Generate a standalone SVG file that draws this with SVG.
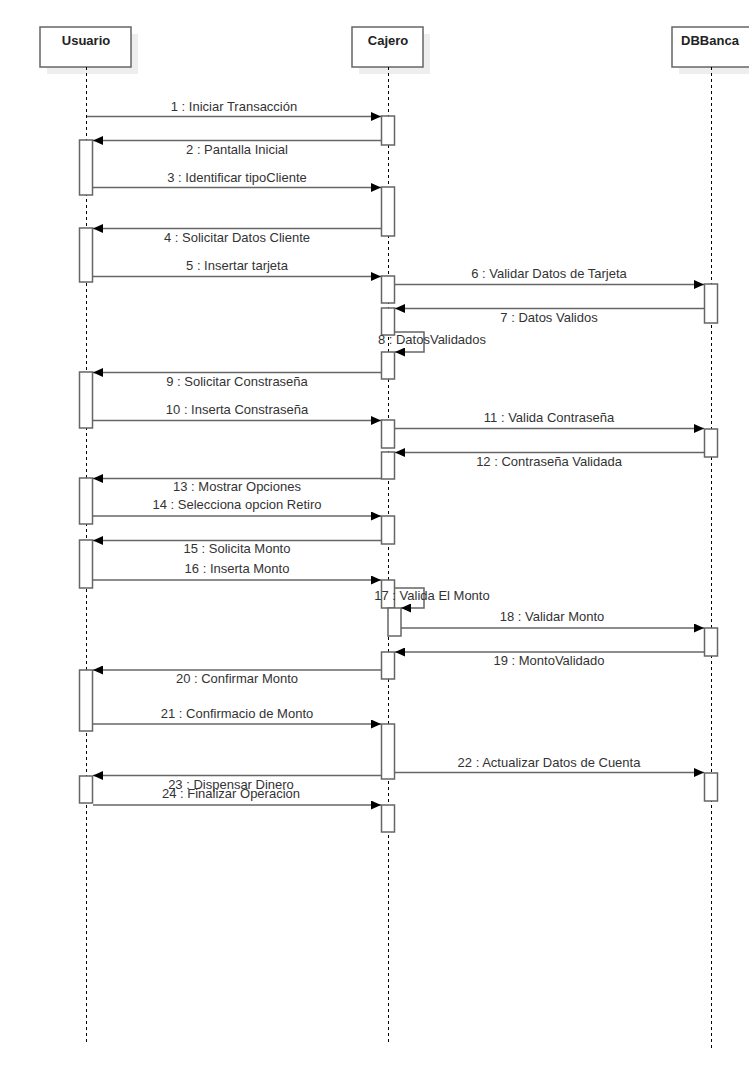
<svg xmlns="http://www.w3.org/2000/svg" width="749" height="1069" viewBox="0 0 749 1069">
<defs>
<marker id="ah" markerUnits="userSpaceOnUse" markerWidth="11" markerHeight="9" refX="10" refY="4.5" orient="auto">
<path d="M0,0 L10,4.5 L0,9 z" fill="#000"/>
</marker>
<style>
.shadow{fill:#eeeeee;stroke:none}
.head{fill:#fff;stroke:#666;stroke-width:1.5}
.htxt{font-family:"Liberation Sans",Arial,sans-serif;font-size:13px;font-weight:bold;fill:#222;text-anchor:middle}
.life{stroke:#000;stroke-width:1;stroke-dasharray:3,3;fill:none}
.act{fill:#fff;stroke:#666;stroke-width:1.5}
.msg{stroke:#666;stroke-width:1.5;fill:none;marker-end:url(#ah)}
.lbl{font-family:"Liberation Sans",Arial,sans-serif;font-size:13px;fill:#333;text-anchor:middle}
</style>
</defs>
<rect width="749" height="1069" fill="#fff"/>

<g id="usuario">
<rect class="shadow" x="47" y="34" width="91" height="40"/>
<rect class="head" x="40" y="27" width="91" height="40"/>
<text class="htxt" x="86" y="45">Usuario</text>
<line class="life" x1="86.5" y1="67" x2="86.5" y2="1043"/>
<rect class="act" x="79.5" y="140" width="13" height="55"/>
<rect class="act" x="79.5" y="228" width="13" height="54"/>
<rect class="act" x="79.5" y="372" width="13" height="56"/>
<rect class="act" x="79.5" y="478" width="13" height="46"/>
<rect class="act" x="79.5" y="540" width="13" height="48"/>
<rect class="act" x="79.5" y="670" width="13" height="61"/>
<rect class="act" x="79.5" y="776" width="13" height="27"/>
</g>

<g id="cajero">
<rect class="shadow" x="359" y="34" width="71" height="40"/>
<rect class="head" x="352" y="27" width="71" height="40"/>
<text class="htxt" x="388" y="45">Cajero</text>
<line class="life" x1="388.5" y1="67" x2="388.5" y2="1043"/>
<rect class="act" x="381.5" y="116" width="13" height="29"/>
<rect class="act" x="381.5" y="187" width="13" height="49"/>
<rect class="act" x="381.5" y="276" width="13" height="27"/>
<rect class="act" x="381.5" y="308" width="13" height="27"/>
<rect class="act" x="381.5" y="352" width="13" height="27"/>
<rect class="act" x="381.5" y="420" width="13" height="28"/>
<rect class="act" x="381.5" y="452" width="13" height="27"/>
<rect class="act" x="381.5" y="516" width="13" height="28"/>
<rect class="act" x="381.5" y="580" width="13" height="28"/>
<rect class="act" x="388" y="608" width="13" height="28"/>
<rect class="act" x="381.5" y="652" width="13" height="27"/>
<rect class="act" x="381.5" y="724" width="13" height="55"/>
<rect class="act" x="381.5" y="805" width="13" height="27"/>
</g>

<g id="dbbanca">
<rect class="shadow" x="679" y="34" width="78" height="40"/>
<rect class="head" x="672" y="27" width="80" height="40"/>
<text class="htxt" x="710" y="45">DBBanca</text>
<line class="life" x1="711.5" y1="67" x2="711.5" y2="1049"/>
<rect class="act" x="704.5" y="284" width="13" height="39"/>
<rect class="act" x="704.5" y="429" width="13" height="28"/>
<rect class="act" x="704.5" y="628" width="13" height="28"/>
<rect class="act" x="704.5" y="773" width="13" height="28"/>
</g>

<g id="connectors">
<line class="msg" x1="87" y1="116.5" x2="381" y2="116.5"/>
<text class="lbl" x="234" y="111">1 : Iniciar Transacción</text>
<line class="msg" x1="381" y1="140.5" x2="93" y2="140.5"/>
<text class="lbl" x="237" y="154">2 : Pantalla Inicial</text>
<line class="msg" x1="93" y1="187.5" x2="381" y2="187.5"/>
<text class="lbl" x="237" y="182">3 : Identificar tipoCliente</text>
<line class="msg" x1="381" y1="228.5" x2="93" y2="228.5"/>
<text class="lbl" x="237" y="242">4 : Solicitar Datos Cliente</text>
<line class="msg" x1="93" y1="276.5" x2="381" y2="276.5"/>
<text class="lbl" x="237" y="270">5 : Insertar tarjeta</text>
<line class="msg" x1="395" y1="284.5" x2="704" y2="284.5"/>
<text class="lbl" x="549" y="278">6 : Validar Datos de Tarjeta</text>
<line class="msg" x1="704" y1="308.5" x2="395" y2="308.5"/>
<text class="lbl" x="549" y="322">7 : Datos Validos</text>
<path class="msg" d="M395,332 H424 V352 H395"/>
<text class="lbl" x="432" y="344">8 : DatosValidados</text>
<line class="msg" x1="381" y1="372.5" x2="93" y2="372.5"/>
<text class="lbl" x="237" y="386">9 : Solicitar Constraseña</text>
<line class="msg" x1="93" y1="420.5" x2="381" y2="420.5"/>
<text class="lbl" x="237" y="414">10 : Inserta Constraseña</text>
<line class="msg" x1="395" y1="428.5" x2="704" y2="428.5"/>
<text class="lbl" x="549" y="422">11 : Valida Contraseña</text>
<line class="msg" x1="704" y1="452.5" x2="395" y2="452.5"/>
<text class="lbl" x="549" y="466">12 : Contraseña Validada</text>
<line class="msg" x1="381" y1="478.5" x2="93" y2="478.5"/>
<text class="lbl" x="237" y="491">13 : Mostrar Opciones</text>
<line class="msg" x1="93" y1="516" x2="381" y2="516"/>
<text class="lbl" x="237" y="509">14 : Selecciona opcion Retiro</text>
<line class="msg" x1="381" y1="540.5" x2="93" y2="540.5"/>
<text class="lbl" x="237" y="553">15 : Solicita Monto</text>
<line class="msg" x1="93" y1="580" x2="381" y2="580"/>
<text class="lbl" x="237" y="573">16 : Inserta Monto</text>
<path class="msg" d="M395,588 H424 V608 H401"/>
<text class="lbl" x="432" y="600">17 : Valida El Monto</text>
<line class="msg" x1="401" y1="628" x2="704" y2="628"/>
<text class="lbl" x="552" y="621">18 : Validar Monto</text>
<line class="msg" x1="704" y1="652" x2="395" y2="652"/>
<text class="lbl" x="549" y="665">19 : MontoValidado</text>
<line class="msg" x1="381" y1="670" x2="93" y2="670"/>
<text class="lbl" x="237" y="683">20 : Confirmar Monto</text>
<line class="msg" x1="93" y1="724" x2="381" y2="724"/>
<text class="lbl" x="237" y="718">21 : Confirmacio de Monto</text>
<line class="msg" x1="395" y1="772.5" x2="704" y2="772.5"/>
<text class="lbl" x="549" y="767">22 : Actualizar Datos de Cuenta</text>
<line class="msg" x1="381" y1="775.5" x2="93" y2="775.5"/>
<text class="lbl" x="231" y="789">23 : Dispensar Dinero</text>
<line class="msg" x1="93" y1="805" x2="381" y2="805"/>
<text class="lbl" x="231" y="798">24 : Finalizar Operacion</text>
</g>
</svg>
